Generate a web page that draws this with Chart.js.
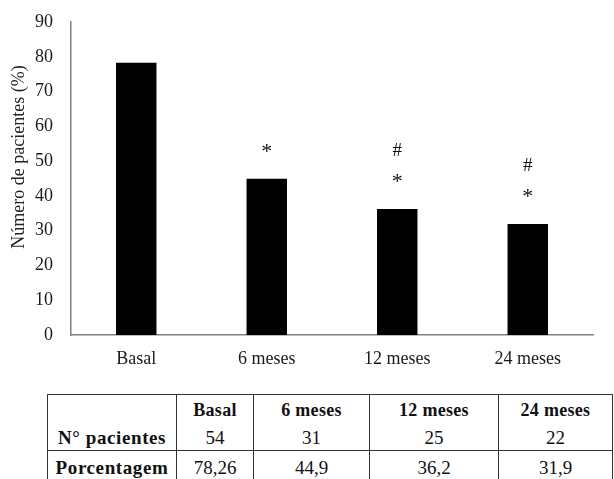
<!DOCTYPE html>
<html>
<head>
<meta charset="utf-8">
<script src="https://cdn.jsdelivr.net/npm/chart.js@4/dist/chart.umd.min.js"></script>
<style>
  html, body { margin: 0; padding: 0; background: #fff; overflow: hidden; }
  body { width: 614px; height: 479px; position: relative; font-family: "Liberation Serif", serif; }
  #wrap { position: absolute; left: 0; top: 0; width: 614px; height: 380px; }
  table.data {
    position: absolute; left: 47px; top: 394px;
    border-collapse: collapse; table-layout: fixed;
    font-family: "Liberation Serif", "Times New Roman", serif; color: #111;
  }
  table.data td {
    border-left: 1px solid #333; border-right: 1px solid #333;
    text-align: center; padding: 0; white-space: nowrap;
  }
  table.data tr.head td { height: 30px; border-top: 1px solid #333; font-weight: bold; font-size: 18px; letter-spacing: 0.3px; }
  table.data tr.count td { height: 25px; border-bottom: 1px solid #333; font-size: 19px; }
  table.data tr.pct td { height: 34px; font-size: 19px; }
  table.data td.rowhead { font-weight: bold; font-size: 18px; letter-spacing: 0.6px; }
</style>
</head>
<body>
<div id="wrap"><canvas id="chart" width="614" height="380"></canvas></div>
<table class="data" id="tbl">
  <colgroup>
    <col style="width:129px"><col style="width:77px"><col style="width:116px"><col style="width:129px"><col style="width:114px">
  </colgroup>
  <tr class="head" id="rowHead"><td></td></tr>
  <tr class="count" id="rowCount"><td class="rowhead">N° pacientes</td></tr>
  <tr class="pct" id="rowPct"><td class="rowhead">Porcentagem</td></tr>
</table>
<script>
// Follow-up visits and share of patients at each one
const categories = ["Basal", "6 meses", "12 meses", "24 meses"];
const percentages = [78.26, 44.9, 36.2, 31.9];
const patientCounts = [54, 31, 25, 22];
// Significance markers shown above the bars
const asteriskMarks = [false, true, true, true];
const hashMarks = [false, false, true, true];
const yTicks = [0, 10, 20, 30, 40, 50, 60, 70, 80, 90];

const SERIF = '"Liberation Serif", "Times New Roman", serif';

// Fill the summary table below the chart
const fmt = v => String(v).replace('.', ',');
const rowHead = document.getElementById('rowHead');
const rowCount = document.getElementById('rowCount');
const rowPct = document.getElementById('rowPct');
categories.forEach((c, i) => {
  const h = document.createElement('td'); h.textContent = c; rowHead.appendChild(h);
  const n = document.createElement('td'); n.textContent = patientCounts[i]; rowCount.appendChild(n);
  const p = document.createElement('td'); p.textContent = fmt(percentages[i]); rowPct.appendChild(p);
});

// Draws the rotated y title and the significance symbols over the bars
const extras = {
  id: 'extras',
  afterDatasetsDraw(chart) {
    const ctx = chart.ctx;
    const meta = chart.getDatasetMeta(0);
    ctx.save();
    ctx.fillStyle = '#111';
    ctx.textAlign = 'center';
    ctx.textBaseline = 'middle';
    meta.data.forEach((bar, i) => {
      const starY = bar.y - 31;
      if (asteriskMarks[i]) {
        ctx.font = '22px ' + SERIF;
        ctx.fillText('*', bar.x, starY + 4);
      }
      if (hashMarks[i]) {
        ctx.font = '19px ' + SERIF;
        ctx.fillText('#', bar.x, starY - 27);
      }
    });
    // y axis title
    ctx.font = '18px ' + SERIF;
    ctx.fillStyle = '#222';
    ctx.translate(19, 157);
    ctx.rotate(-Math.PI / 2);
    ctx.fillText('Número de pacientes (%)', 0, 0);
    ctx.restore();
  }
};

function draw() {
  new Chart(document.getElementById('chart'), {
    type: 'bar',
    data: {
      labels: categories,
      datasets: [{
        data: percentages,
        backgroundColor: '#000',
        borderWidth: 0,
        barPercentage: 0.31,
        categoryPercentage: 1.0
      }]
    },
    options: {
      responsive: false,
      animation: false,
      devicePixelRatio: 1,
      layout: { padding: { top: 22, right: 21, left: 0, bottom: 0 } },
      plugins: { legend: { display: false }, tooltip: { enabled: false } },
      scales: {
        x: {
          grid: { display: false, drawTicks: false },
          border: { display: true, color: '#808080', width: 1.5 },
          ticks: { color: '#1a1a1a', padding: 13, font: { family: SERIF, size: 18 } },
          afterFit(scale) { scale.height = 45; }
        },
        y: {
          min: 0, max: 90,
          afterBuildTicks(scale) { scale.ticks = yTicks.map(v => ({ value: v })); },
          grid: { display: false, drawTicks: false },
          border: { display: true, color: '#808080', width: 1.5 },
          ticks: { color: '#1a1a1a', padding: 18, font: { family: SERIF, size: 18 } },
          afterFit(scale) { scale.width = 71; scale.paddingTop = 0; scale.paddingBottom = 0; }
        }
      }
    },
    plugins: [extras]
  });
}

// Make sure the serif face is ready before the canvas text is painted
if (document.fonts && document.fonts.load) {
  Promise.all([
    document.fonts.load('18px "Liberation Serif"'),
    document.fonts.load('bold 18px "Liberation Serif"')
  ]).then(draw, draw);
} else {
  draw();
}
</script>
</body>
</html>
